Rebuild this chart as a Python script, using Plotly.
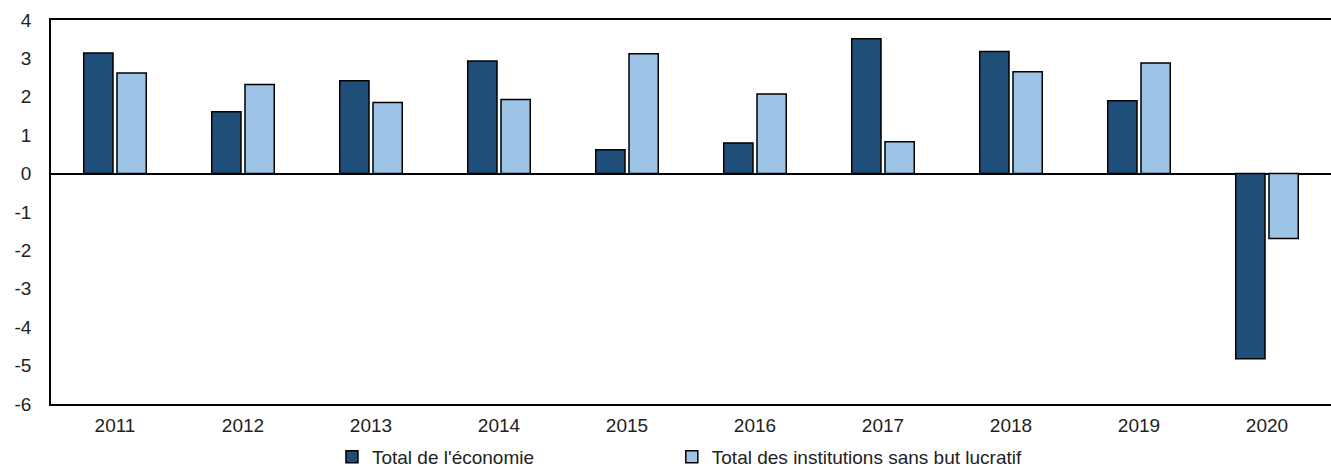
import plotly.graph_objects as go

years = ["2011", "2012", "2013", "2014", "2015", "2016", "2017", "2018", "2019", "2020"]
economie = [3.14, 1.61, 2.42, 2.93, 0.62, 0.80, 3.51, 3.18, 1.90, -4.82]
isbl = [2.62, 2.32, 1.85, 1.93, 3.12, 2.07, 0.83, 2.65, 2.88, -1.69]
series_names = ["Total de l'économie", "Total des institutions sans but lucratif"]
y_ticks = [4, 3, 2, 1, 0, -1, -2, -3, -4, -5, -6]
y_tick_labels = [str(v) for v in y_ticks]

FONT = "Liberation Sans, Arial, Helvetica, sans-serif"
LEG_FONT = dict(family=FONT, size=19, color="#222222")

fig = go.Figure()
fig.add_trace(go.Bar(x=years, y=economie, name=series_names[0], legend="legend",
                     marker=dict(color="#1F4E79", line=dict(color="#000000", width=1.5))))
fig.add_trace(go.Bar(x=years, y=isbl, name=series_names[1], legend="legend2",
                     marker=dict(color="#9DC3E6", line=dict(color="#000000", width=1.5))))

fig.update_layout(
    width=1331, height=469,
    margin=dict(l=51, r=0, t=20, b=65, autoexpand=False),
    paper_bgcolor="white", plot_bgcolor="white",
    barmode="group", bargap=0.48, bargroupgap=0.12,
    font=dict(family=FONT, size=19, color="#222222"),
    showlegend=True,
    legend=dict(orientation="h", x=0.2195, xanchor="left", y=-0.138, yanchor="middle",
                font=LEG_FONT, itemwidth=30),
    legend2=dict(orientation="h", x=0.485, xanchor="left", y=-0.138, yanchor="middle",
                 font=LEG_FONT, itemwidth=30),
    xaxis=dict(showline=True, linecolor="#000000", linewidth=1.5, mirror=True, automargin=False,
               ticks="", showgrid=False, tickfont=dict(family=FONT, size=19), ticklabelstandoff=3),
    yaxis=dict(range=[-6, 4], tickvals=y_ticks, ticktext=y_tick_labels,
               showline=True, linecolor="#000000", linewidth=1.5,
               showgrid=False, zeroline=True, zerolinecolor="#000000", zerolinewidth=1.5, automargin=False,
               ticks="", tickfont=dict(family=FONT, size=19), ticklabelstandoff=14),
)

fig.write_html("out.html", config={"displayModeBar": False},
               post_script="document.body.style.margin='0';")
